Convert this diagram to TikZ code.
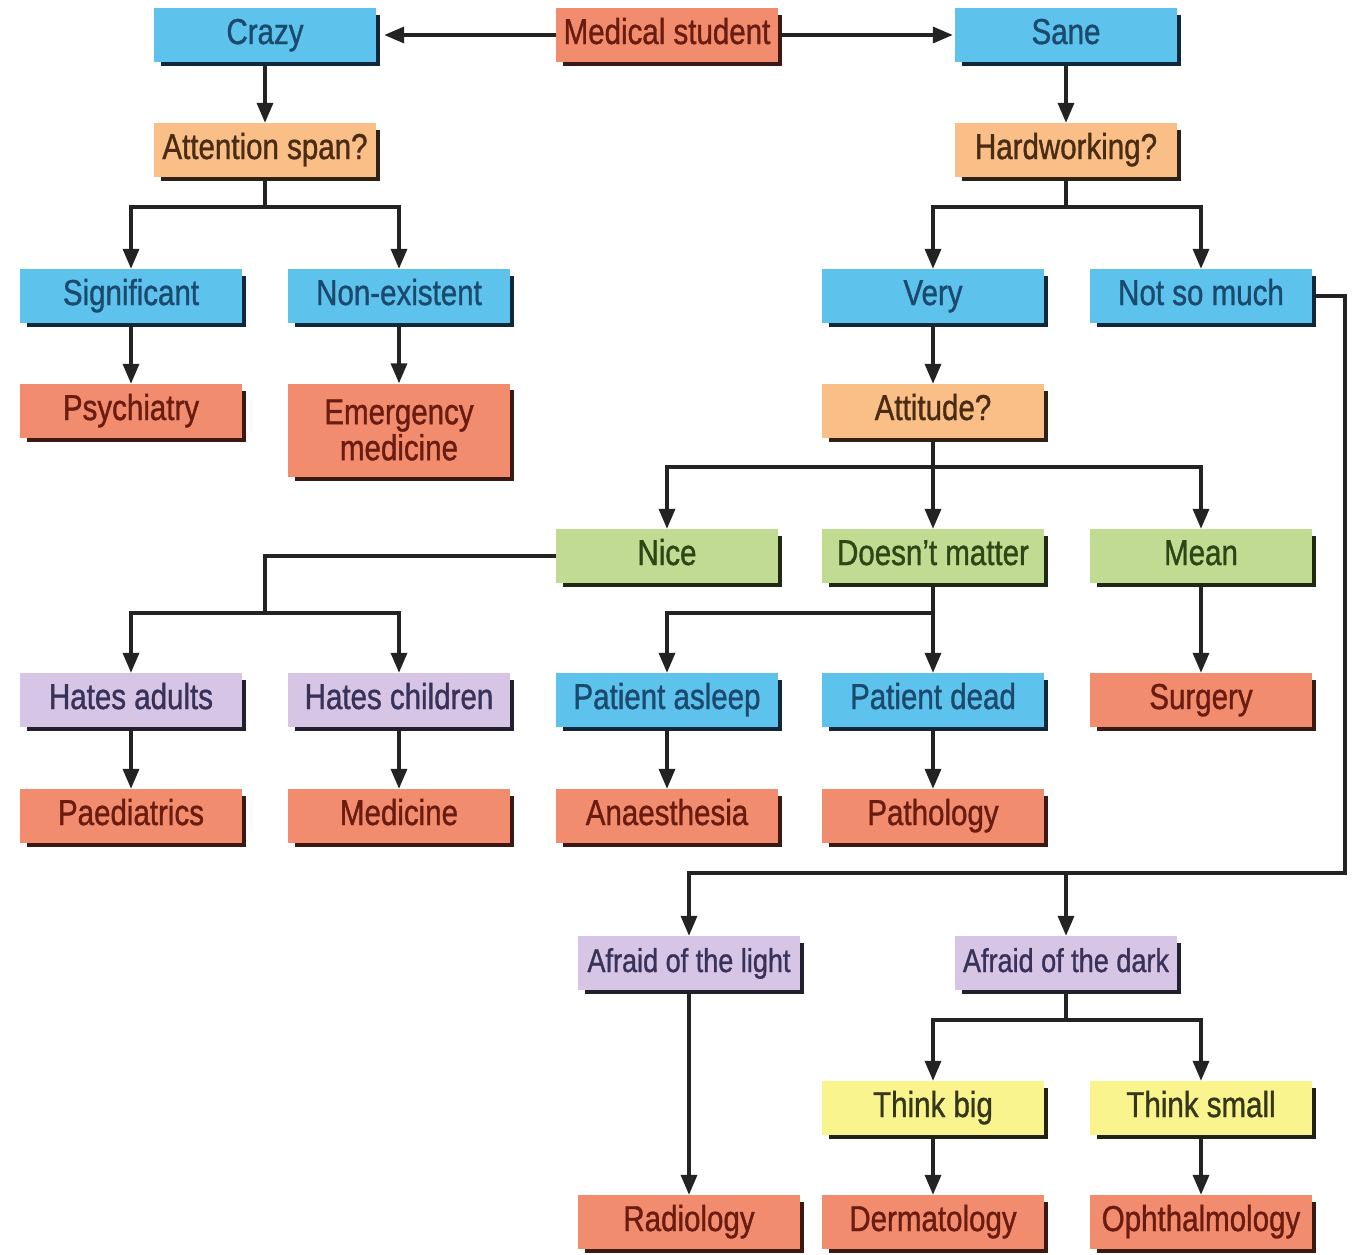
\documentclass[tikz,border=0pt]{standalone}
\usepackage{fontspec}
\setmainfont[FakeStretch=0.82,FakeBold=1]{Liberation Sans}
\usetikzlibrary{arrows.meta}
\definecolor{cBlue}{HTML}{5DC3EC}
\definecolor{tBlue}{HTML}{1B4A6E}
\definecolor{sBlue}{HTML}{10283A}
\definecolor{cSal}{HTML}{F28C6E}
\definecolor{tSal}{HTML}{6A1C10}
\definecolor{sSal}{HTML}{3A1A12}
\definecolor{cOr}{HTML}{F9BF86}
\definecolor{tOr}{HTML}{4A2C14}
\definecolor{sOr}{HTML}{2E2216}
\definecolor{cGr}{HTML}{C1DB92}
\definecolor{tGr}{HTML}{2C4616}
\definecolor{sGr}{HTML}{1E2A14}
\definecolor{cLav}{HTML}{D6C5E4}
\definecolor{tLav}{HTML}{38325A}
\definecolor{sLav}{HTML}{22202E}
\definecolor{cYel}{HTML}{F9F48D}
\definecolor{tYel}{HTML}{36361A}
\definecolor{sYel}{HTML}{222214}
\definecolor{cLine}{HTML}{232323}
\tikzset{
  box/.style={minimum width=222pt, minimum height=54pt, inner sep=0pt, align=center,
    font=\fontsize{36}{38}\selectfont},
  box1/.style={box, text height=26pt, text depth=8pt},
  blueb/.style={box1, fill=cBlue, text=tBlue},
  salb/.style={box1, fill=cSal, text=tSal},
  orb/.style={box1, fill=cOr, text=tOr},
  grb/.style={box1, fill=cGr, text=tGr},
  lavb/.style={box1, fill=cLav, text=tLav},
  yelb/.style={box1, fill=cYel, text=tYel},
  arr/.style={line width=3.5pt, draw=cLine, -{Triangle[length=20pt,width=16pt]}},
  ln/.style={line width=3.5pt, draw=cLine},
  shd/.style={line width=4pt},
}
\begin{document}
\begin{tikzpicture}[x=1pt,y=-1pt]
\useasboundingbox (0,0) rectangle (1357,1254);
\fill[white] (0,0) rectangle (1357,1254);
% nodes
\node[salb] (med) at (667,35) {Medical student};
\node[blueb] (crazy) at (265,35) {Crazy};
\node[blueb] (sane) at (1066,35) {Sane};
\node[orb] (att) at (265,150) {Attention span?};
\node[orb] (hw) at (1066,150) {Hardworking?};
\node[blueb] (sig) at (131,296) {Significant};
\node[blueb] (non) at (399,296) {Non-existent};
\node[blueb] (very) at (933,296) {Very};
\node[blueb] (nsm) at (1201,296) {Not so much};
\node[salb] (psy) at (131,411) {Psychiatry};
\node[box, fill=cSal, text=tSal, minimum height=93pt] (em) at (399,430) {Emergency\\[-2pt]medicine};
\node[orb] (atd) at (933,411) {Attitude?};
\node[grb] (nice) at (667,556) {Nice};
\node[grb] (dm) at (933,556) {Doesn't matter};
\node[grb] (mean) at (1201,556) {Mean};
\node[lavb] (ha) at (131,700) {Hates adults};
\node[lavb] (hc) at (399,700) {Hates children};
\node[blueb] (pa) at (667,700) {Patient asleep};
\node[blueb] (pd) at (933,700) {Patient dead};
\node[salb] (surg) at (1201,700) {Surgery};
\node[salb] (paed) at (131,816) {Paediatrics};
\node[salb] (medi) at (399,816) {Medicine};
\node[salb] (ana) at (667,816) {Anaesthesia};
\node[salb] (path) at (933,816) {Pathology};
\node[lavb, font=\fontsize{33}{36}\selectfont] (afl) at (689,963) {Afraid of the light};
\node[lavb, font=\fontsize{33}{36}\selectfont] (afd) at (1066,963) {Afraid of the dark};
\node[yelb] (tb) at (933,1108) {Think big};
\node[yelb] (ts) at (1201,1108) {Think small};
\node[salb] (rad) at (689,1222) {Radiology};
\node[salb] (der) at (933,1222) {Dermatology};
\node[salb] (oph) at (1201,1222) {Ophthalmology};
% junction coordinates
\coordinate (j1) at (265,207);
\coordinate (j2) at (1066,207);
\coordinate (j3) at (933,467);
\coordinate (j4) at (265,613);
\coordinate (j5) at (933,613);
\coordinate (rc) at (1345,873);
\coordinate (j6) at (1066,1020);
% connectors
\draw[arr] (med.west) -- ([xshift=8pt]crazy.east);
\draw[arr] (med.east) -- ([xshift=-2pt]sane.west);
\draw[arr] (crazy.south) -- (att.north);
\draw[arr] (sane.south) -- (hw.north);
\draw[ln] (att.south) -- (j1);
\draw[arr] (j1) -| (sig.north);
\draw[arr] (j1) -| (non.north);
\draw[ln] (hw.south) -- (j2);
\draw[arr] (j2) -| (very.north);
\draw[arr] (j2) -| (nsm.north);
\draw[arr] (sig.south) -- (psy.north);
\draw[arr] (non.south) -- (em.north);
\draw[arr] (very.south) -- (atd.north);
\draw[arr] (atd.south) -- (dm.north);
\draw[arr] (j3) -| (nice.north);
\draw[arr] (j3) -| (mean.north);
\draw[ln] (nice.west) -| (j4);
\draw[arr] (j4) -| (ha.north);
\draw[arr] (j4) -| (hc.north);
\draw[arr] (dm.south) -- (pd.north);
\draw[arr] (j5) -| (pa.north);
\draw[arr] (mean.south) -- (surg.north);
\draw[arr] (ha.south) -- (paed.north);
\draw[arr] (hc.south) -- (medi.north);
\draw[arr] (pa.south) -- (ana.north);
\draw[arr] (pd.south) -- (path.north);
\draw[arr] (nsm.east) -| (rc) -| (afl.north);
\draw[arr] (afd.north |- rc) -- (afd.north);
\draw[arr] (afl.south) -- (rad.north);
\draw[ln] (afd.south) -- (j6);
\draw[arr] (j6) -| (tb.north);
\draw[arr] (j6) -| (ts.north);
\draw[arr] (tb.south) -- (der.north);
\draw[arr] (ts.south) -- (oph.north);
% shadows
\foreach \n in {crazy,sane,sig,non,very,nsm,pa,pd}
  \draw[shd, draw=sBlue] ([shift={(7,2)}]\n.south west) -- ([shift={(2,2)}]\n.south east) -- ([shift={(2,7)}]\n.north east);
\foreach \n in {med,psy,em,surg,paed,medi,ana,path,rad,der,oph}
  \draw[shd, draw=sSal] ([shift={(7,2)}]\n.south west) -- ([shift={(2,2)}]\n.south east) -- ([shift={(2,7)}]\n.north east);
\foreach \n in {att,hw,atd}
  \draw[shd, draw=sOr] ([shift={(7,2)}]\n.south west) -- ([shift={(2,2)}]\n.south east) -- ([shift={(2,7)}]\n.north east);
\foreach \n in {nice,dm,mean}
  \draw[shd, draw=sGr] ([shift={(7,2)}]\n.south west) -- ([shift={(2,2)}]\n.south east) -- ([shift={(2,7)}]\n.north east);
\foreach \n in {ha,hc,afl,afd}
  \draw[shd, draw=sLav] ([shift={(7,2)}]\n.south west) -- ([shift={(2,2)}]\n.south east) -- ([shift={(2,7)}]\n.north east);
\foreach \n in {tb,ts}
  \draw[shd, draw=sYel] ([shift={(7,2)}]\n.south west) -- ([shift={(2,2)}]\n.south east) -- ([shift={(2,7)}]\n.north east);
\end{tikzpicture}
\end{document}
